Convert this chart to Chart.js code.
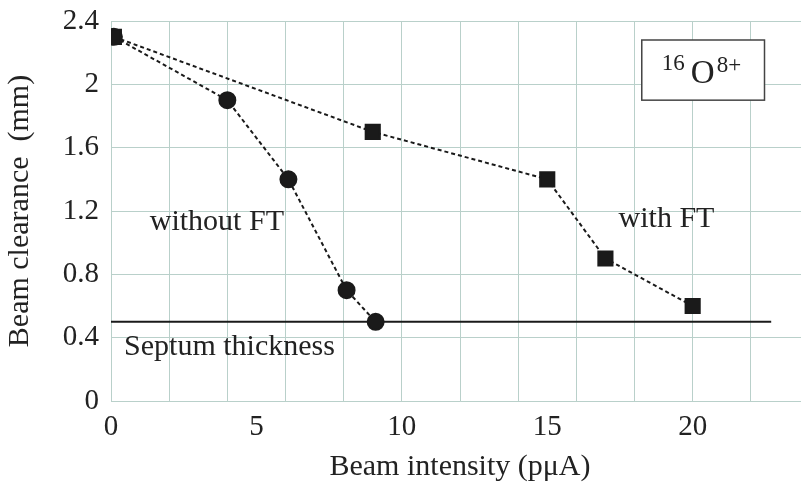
<!DOCTYPE html>
<html>
<head>
<meta charset="utf-8">
<script src="https://cdn.jsdelivr.net/npm/chart.js@4/dist/chart.umd.min.js"></script>
<style>
html,body{margin:0;padding:0;background:#fff;overflow:hidden;}
#wrap{width:801px;height:487px;overflow:hidden;}
canvas{display:block;}
</style>
</head>
<body>
<div id="wrap"><canvas id="c" width="821" height="487" style="width:821px;height:487px"></canvas></div>
<script>
// ---- data ----
const withoutFT_x = [0.1, 4.0, 6.1, 8.1, 9.1];
const withoutFT_y = [2.3, 1.9, 1.4, 0.7, 0.5];
const withFT_x = [0.1, 9.0, 15.0, 17.0, 20.0];
const withFT_y = [2.3, 1.7, 1.4, 0.9, 0.6];
const septum_x = [0, 22.7];
const septum_y = [0.5, 0.5];
const xGridTicks = [0, 2, 4, 5, 6, 8, 10, 12, 14, 15, 16, 18, 20, 22, 24];
const xLabelTicks = [0, 5, 10, 15, 20];
const yLabelTicks = [0, 0.4, 0.8, 1.2, 1.6, 2, 2.4];
const xTitle = 'Beam intensity (pμA)';
const yTitle = 'Beam clearance  (mm)';

const FONT = "'Liberation Serif', 'Times New Roman', serif";
const GRID = '#b9d0ca';
const INK = '#1a1a1a';

const pts = (xs, ys) => xs.map((x, i) => ({x: x, y: ys[i]}));

const annotations = {
  id: 'annot',
  afterDatasetsDraw(chart) {
    const {ctx, scales: {x, y}} = chart;
    ctx.save();
    ctx.fillStyle = '#222';
    ctx.textBaseline = 'alphabetic';
    ctx.font = '30px ' + FONT;
    ctx.textAlign = 'center';
    ctx.fillText('without FT', x.getPixelForValue(3.64), y.getPixelForValue(1.08));
    ctx.fillText('with FT', x.getPixelForValue(19.1), y.getPixelForValue(1.10));
    ctx.textAlign = 'left';
    ctx.fillText('Septum thickness', x.getPixelForValue(0.45), y.getPixelForValue(0.29));
    // ion label box
    const L = x.getPixelForValue(18.25), R = x.getPixelForValue(22.47);
    const T = y.getPixelForValue(2.28), B = y.getPixelForValue(1.90);
    ctx.fillStyle = '#fff';
    ctx.fillRect(L, T, R - L, B - T);
    ctx.strokeStyle = '#444';
    ctx.lineWidth = 1.5;
    ctx.strokeRect(L, T, R - L, B - T);
    ctx.fillStyle = '#222';
    ctx.font = '23px ' + FONT;
    ctx.fillText('16', L + 20, T + 30);
    ctx.font = '33px ' + FONT;
    ctx.fillText('O', L + 49, T + 43);
    ctx.font = '23px ' + FONT;
    ctx.fillText('8+', L + 75, T + 32);
    ctx.restore();
  }
};

new Chart(document.getElementById('c'), {
  type: 'scatter',
  data: {
    datasets: [
      {
        label: 'Septum thickness',
        data: pts(septum_x, septum_y),
        showLine: true,
        borderColor: INK,
        borderWidth: 2,
        pointRadius: 0,
        order: 3
      },
      {
        label: 'without FT',
        data: pts(withoutFT_x, withoutFT_y),
        showLine: true,
        borderColor: INK,
        borderWidth: 2,
        borderDash: [4, 3],
        pointStyle: 'circle',
        pointRadius: 8,
        pointBackgroundColor: INK,
        pointBorderColor: INK,
        order: 2
      },
      {
        label: 'with FT',
        data: pts(withFT_x, withFT_y),
        showLine: true,
        borderColor: INK,
        borderWidth: 2,
        borderDash: [4, 3],
        pointStyle: 'rect',
        pointRadius: 10,
        pointBackgroundColor: INK,
        pointBorderColor: INK,
        order: 1
      }
    ]
  },
  options: {
    responsive: false,
    animation: false,
    devicePixelRatio: 1,
    layout: {padding: {top: 21, right: 1, left: 0, bottom: 0}},
    plugins: {legend: {display: false}, tooltip: {enabled: false}},
    scales: {
      x: {
        type: 'linear',
        min: 0,
        max: 24,
        afterBuildTicks(scale) { scale.ticks = xGridTicks.map(v => ({value: v})); },
        afterFit(scale) { scale.height = 86; scale.paddingLeft = 0; scale.paddingRight = 0; },
        ticks: {
          autoSkip: false,
          maxRotation: 0,
          padding: 9,
          color: '#222',
          font: {family: FONT, size: 29},
          callback: v => xLabelTicks.includes(v) ? String(v) : ''
        },
        grid: {
          drawTicks: false,
          lineWidth: 1,
          color: c => (c.tick && c.tick.value % 2 === 0) ? GRID : 'rgba(0,0,0,0)'
        },
        border: {color: GRID, width: 1},
        title: {
          display: true,
          text: xTitle,
          color: '#222',
          font: {family: FONT, size: 30},
          padding: {top: 0, bottom: 2}
        }
      },
      y: {
        type: 'linear',
        min: 0,
        max: 2.4,
        afterFit(scale) { scale.width = 111; scale.paddingTop = 0; scale.paddingBottom = 0; },
        ticks: {
          stepSize: 0.2,
          padding: 12,
          color: '#222',
          font: {family: FONT, size: 29},
          callback: v => {
            const k = Math.round(v * 10) / 10;
            return yLabelTicks.some(t => Math.abs(t - k) < 1e-6) ? String(k) : '';
          }
        },
        grid: {drawTicks: false, color: GRID, lineWidth: 1},
        border: {color: GRID, width: 1},
        title: {
          display: true,
          text: yTitle,
          color: '#222',
          font: {family: FONT, size: 30},
          padding: {top: 2, bottom: 0}
        }
      }
    }
  },
  plugins: [annotations]
});
</script>
</body>
</html>
